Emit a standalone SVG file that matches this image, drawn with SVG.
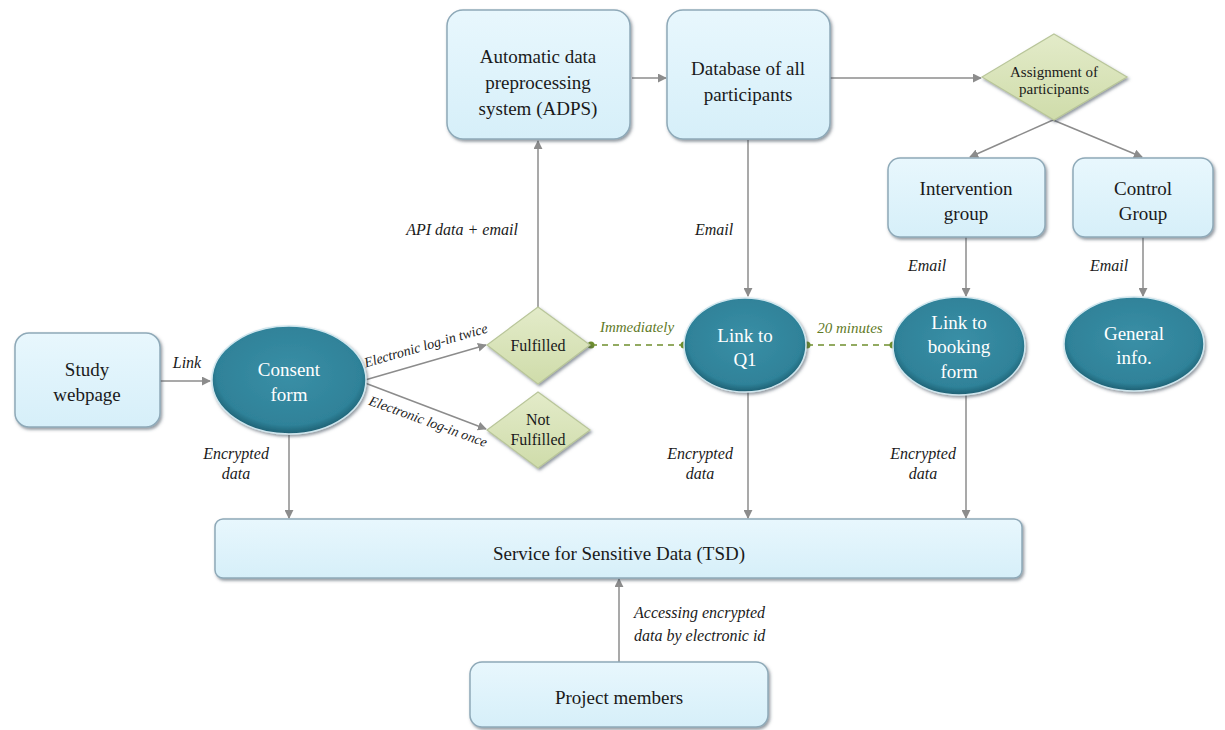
<svg xmlns="http://www.w3.org/2000/svg" width="1225" height="730" viewBox="0 0 1225 730" font-family="'Liberation Serif', 'DejaVu Serif', serif">
<defs>
<style>
.box{fill:url(#gBox);stroke:#8ea9b8;stroke-width:1.5;filter:url(#sh)}
.ell{fill:url(#gEll);stroke:#cfe6ee;stroke-width:1.5;filter:url(#sh)}
.dia{fill:url(#gDia);stroke:#b9c69a;stroke-width:1.2;filter:url(#sh)}
.t{font-size:19px;fill:#1a1a1a;text-anchor:middle}
.tw{font-size:19px;fill:#ffffff;text-anchor:middle}
.ts{font-size:16px;fill:#1a1a1a;text-anchor:middle}
.lab{font-size:16px;font-style:italic;fill:#1a1a1a;text-anchor:middle}
.glab{font-size:15px;font-style:italic;fill:#5f7a28;text-anchor:middle}
.con{stroke:#8c8c8c;stroke-width:1.5;fill:none;marker-end:url(#arr)}
.dash{stroke:#6f8f2e;stroke-width:1.5;stroke-dasharray:6 5;fill:none}
.dot{fill:#6f8f2e}
</style>
<linearGradient id="gBox" x1="0" y1="0" x2="0" y2="1">
<stop offset="0" stop-color="#e8f7fd"/><stop offset="1" stop-color="#d6eff9"/>
</linearGradient>
<radialGradient id="gEll" cx="0.5" cy="0.45" r="0.55">
<stop offset="0" stop-color="#3a8fa6"/><stop offset="0.85" stop-color="#2f8299"/><stop offset="1" stop-color="#1d5f72"/>
</radialGradient>
<linearGradient id="gDia" x1="0" y1="0" x2="0" y2="1">
<stop offset="0" stop-color="#e3ebc9"/><stop offset="1" stop-color="#cfdcaa"/>
</linearGradient>
<filter id="sh" x="-10%" y="-10%" width="125%" height="130%">
<feDropShadow dx="1.5" dy="2" stdDeviation="1.8" flood-color="#3a4a55" flood-opacity="0.55"/>
</filter>
<marker id="arr" viewBox="0 0 10 10" refX="9" refY="5" markerWidth="9" markerHeight="9" markerUnits="userSpaceOnUse" orient="auto">
<path d="M0,0 L10,5 L0,10 z" fill="#8c8c8c"/>
</marker>
</defs>
<rect width="1225" height="730" fill="#ffffff"/>

<g id="connectors">
<line class="con" x1="160" y1="381" x2="210" y2="381"/>
<text class="lab" x="187" y="368">Link</text>
<line class="con" x1="365" y1="380" x2="486" y2="345"/>
<line class="con" x1="365" y1="383" x2="486" y2="429"/>
<text class="lab" style="font-size:14px" x="426" y="350" transform="rotate(-16 426 346)">Electronic log-in twice</text>
<text class="lab" style="font-size:14px" x="428" y="426" transform="rotate(20 428 422)">Electronic log-in once</text>
<line class="con" x1="538" y1="307" x2="538" y2="141"/>
<text class="lab" x="462" y="235">API data + email</text>
<line class="con" x1="632" y1="78" x2="666" y2="78"/>
<line class="con" x1="830" y1="78" x2="981" y2="78"/>
<line class="con" x1="748" y1="140" x2="748" y2="296"/>
<text class="lab" x="714" y="235">Email</text>
<line class="con" x1="1053" y1="120" x2="970" y2="157"/>
<line class="con" x1="1053" y1="120" x2="1142" y2="157"/>
<line class="con" x1="966" y1="237" x2="966" y2="296"/>
<text class="lab" x="927" y="271">Email</text>
<line class="con" x1="1143" y1="237" x2="1143" y2="296"/>
<text class="lab" x="1109" y="271">Email</text>
<line class="dash" x1="591" y1="345" x2="684" y2="345"/>
<circle class="dot" cx="591" cy="345" r="3.5"/>
<circle class="dot" cx="684" cy="345" r="3.5"/>
<text class="glab" x="637" y="332">Immediately</text>
<line class="dash" x1="807" y1="345" x2="893" y2="345"/>
<circle class="dot" cx="807" cy="345" r="3.5"/>
<circle class="dot" cx="893" cy="345" r="3.5"/>
<text class="glab" x="850" y="333">20 minutes</text>
<line class="con" x1="289" y1="435" x2="289" y2="518"/>
<text class="lab" x="236" y="459">Encrypted</text>
<text class="lab" x="236" y="479">data</text>
<line class="con" x1="748" y1="392" x2="748" y2="518"/>
<text class="lab" x="700" y="459">Encrypted</text>
<text class="lab" x="700" y="479">data</text>
<line class="con" x1="966" y1="395" x2="966" y2="518"/>
<text class="lab" x="923" y="459">Encrypted</text>
<text class="lab" x="923" y="479">data</text>
<line class="con" x1="619" y1="662" x2="619" y2="579"/>
<text class="lab" style="text-anchor:start" x="634" y="618">Accessing encrypted</text>
<text class="lab" style="text-anchor:start" x="634" y="641">data by electronic id</text>
</g>

<g id="study-webpage">
<rect class="box" x="15" y="333" width="145" height="94" rx="14"/>
<text class="t" x="87" y="376">Study</text>
<text class="t" x="87" y="401">webpage</text>
</g>
<g id="consent-form">
<ellipse class="ell" cx="289" cy="380" rx="77" ry="54"/>
<text class="tw" x="289" y="376">Consent</text>
<text class="tw" x="289" y="401">form</text>
</g>
<g id="fulfilled">
<polygon class="dia" points="538,307 590,345 538,384 487,345"/>
<text class="ts" x="538" y="351">Fulfilled</text>
</g>
<g id="not-fulfilled">
<polygon class="dia" points="538,392 590,430 538,468 487,430"/>
<text class="ts" x="538" y="425">Not</text>
<text class="ts" x="538" y="445">Fulfilled</text>
</g>
<g id="adps">
<rect class="box" x="447" y="10" width="183" height="129" rx="16"/>
<text class="t" x="538" y="63">Automatic data</text>
<text class="t" x="538" y="89">preprocessing</text>
<text class="t" x="538" y="115">system (ADPS)</text>
</g>
<g id="database">
<rect class="box" x="667" y="10" width="163" height="129" rx="16"/>
<text class="t" x="748" y="75">Database of all</text>
<text class="t" x="748" y="101">participants</text>
</g>
<g id="assignment">
<polygon class="dia" points="1054,34 1127,77 1054,120 982,77"/>
<text class="ts" style="font-size:15px" x="1054" y="77">Assignment of</text>
<text class="ts" style="font-size:15px" x="1054" y="94">participants</text>
</g>
<g id="intervention-group">
<rect class="box" x="888" y="158" width="157" height="79" rx="12"/>
<text class="t" x="966" y="195">Intervention</text>
<text class="t" x="966" y="220">group</text>
</g>
<g id="control-group">
<rect class="box" x="1073" y="158" width="140" height="79" rx="12"/>
<text class="t" x="1143" y="195">Control</text>
<text class="t" x="1143" y="220">Group</text>
</g>
<g id="link-q1">
<ellipse class="ell" cx="745" cy="345" rx="61" ry="47"/>
<text class="tw" x="745" y="342">Link to</text>
<text class="tw" x="745" y="366">Q1</text>
</g>
<g id="link-booking">
<ellipse class="ell" cx="959" cy="346" rx="66" ry="49"/>
<text class="tw" x="959" y="329">Link to</text>
<text class="tw" x="959" y="353">booking</text>
<text class="tw" x="959" y="378">form</text>
</g>
<g id="general-info">
<ellipse class="ell" cx="1134" cy="344" rx="70" ry="47"/>
<text class="tw" x="1134" y="340">General</text>
<text class="tw" x="1134" y="364">info.</text>
</g>
<g id="tsd">
<rect class="box" x="215" y="519" width="807" height="59" rx="8"/>
<text class="t" x="619" y="560">Service for Sensitive Data (TSD)</text>
</g>
<g id="project-members">
<rect class="box" x="470" y="662" width="298" height="65" rx="12"/>
<text class="t" x="619" y="704">Project members</text>
</g>
</svg>
